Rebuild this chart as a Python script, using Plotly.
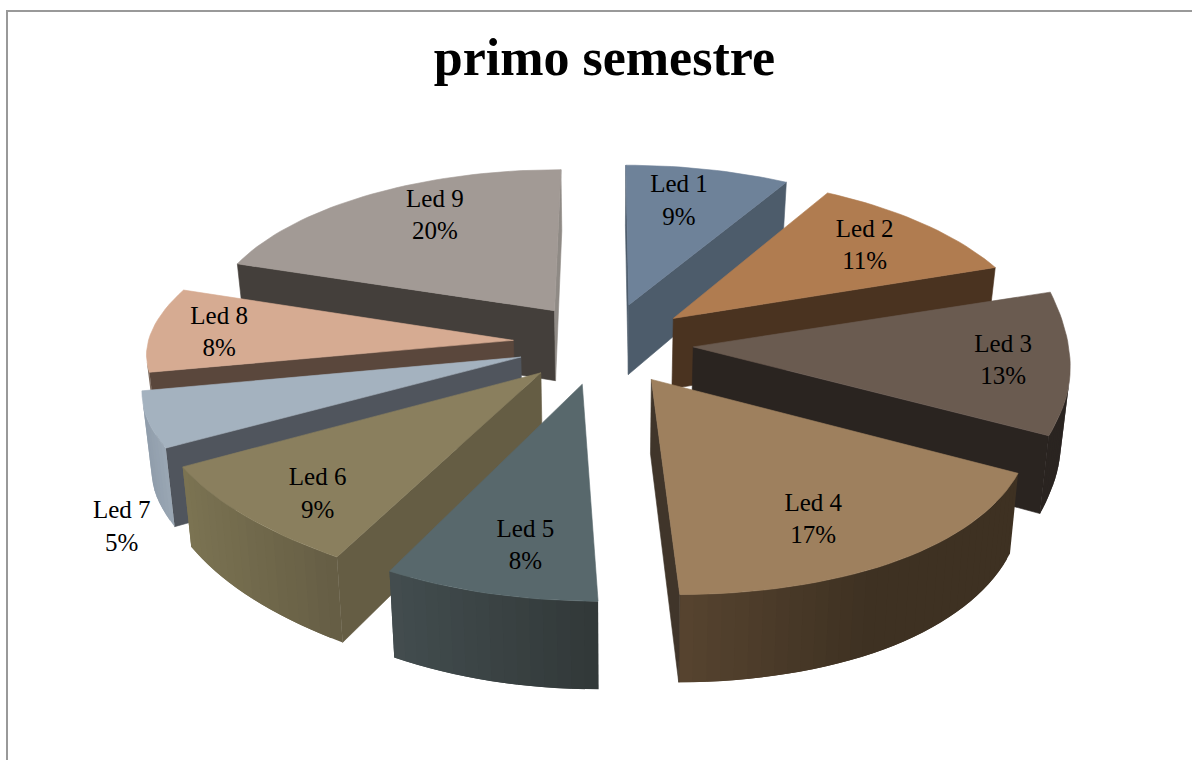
import math
import plotly.graph_objects as go

labels = ["Led 1", "Led 2", "Led 3", "Led 4", "Led 5", "Led 6", "Led 7", "Led 8", "Led 9"]
values = [9, 11, 13, 17, 8, 9, 5, 8, 20]

top_colors = ["#6e8299", "#b07c50", "#6a5b50", "#9e805e", "#58686c", "#8a7f5e", "#a4b2bf", "#d6ab92", "#a29a95"]
start_face = ["#4d5c6b", "#4a3320", "#2a2420", "#40352a", "#414b4d", "#655d44", "#50555d", "#5a473c", "#443f3b"]
end_face = ["#4d5c6b", "#4a3320", "#2a2420", "#40352a", "#414b4d", "#655d44", "#50555d", "#5a473c", "#8f8a85"]
wall_left = ["#4d5c6b", "#4a3320", "#2a2420", "#57442f", "#434d4f", "#7b7352", "#8f9caa", "#7c6a5e", "#443f3b"]
wall_right = ["#4d5c6b", "#4a3320", "#2a2420", "#3e3122", "#313838", "#655d44", "#9aa7b4", "#7c6a5e", "#443f3b"]

# projection / layout settings
CX, CY, RX, RY, PERSP, DEPTH, SHRINK = 605, 343, 368, 171, 0.149, 72, 0.98
pull = [0.24, 0.24, 0.24, 0.24, 0.24, 0.24, 0.24, 0.25, 0.24]
start_adj = [0, -2, 0, 0, 0, 0, 0, 0, 0]
end_adj = [-2, -1, 0, 0, -0.5, 0, 0, 0, 0]
start_bulge = [0, 0, 0.08, -0.008, 0, 0.01, 0, -0.025, -0.02]
end_trim = [0, 0, 0.005, 0, 0, -0.005, 0, 0, 0]
gradient_speed = [1, 1, 1, 1.8, 1, 1, 1, 1, 1]
label_frac = [0.80, 0.72, 0.78, 0.60, 0.62, 0.62, 1.16, 0.80, 0.72]
label_dx = [-19, 3, 19, 24, -1, -46, 37, -4, 16]
label_dy = [8, -4, 2, 39, 41, 38, 98, 2, -7]
label_font = 25


def proj(u, v, z=0):
    w = 1 + PERSP * v
    px = CX + RX * u / w
    py = CY - RY * v / w + z * DEPTH / w
    if z:
        px = CX + (px - CX) * SHRINK
    if v < -0.4:
        px += 20 * min(1.0, ((-v - 0.4) / 0.7)) ** 1.2
    return px, py


def area(a, b, c, d):
    pts = [a, b, c, d]
    return sum(pts[i][0] * pts[(i + 1) % 4][1] - pts[(i + 1) % 4][0] * pts[i][1] for i in range(4)) / 2


def lerp(c1, c2, t):
    a = [int(c1[i:i + 2], 16) for i in (1, 3, 5)]
    b = [int(c2[i:i + 2], 16) for i in (1, 3, 5)]
    return "rgb(%d,%d,%d)" % tuple(round(x + (y - x) * t) for x, y in zip(a, b))


def poly(pts, color, lw=0.6):
    return go.Scatter(x=[p[0] for p in pts] + [pts[0][0]], y=[p[1] for p in pts] + [pts[0][1]],
                      mode="lines", fill="toself", fillcolor=color,
                      line=dict(color=color, width=lw), hoverinfo="skip", showlegend=False)


total = sum(values)
slices = []
acc = 0
for i, val in enumerate(values):
    a0 = acc / total * 2 * math.pi
    a1 = (acc + val) / total * 2 * math.pi
    acc += val
    mid = (a0 + a1) / 2
    slices.append((i, a0, a1, mid, pull[i] * math.sin(mid), pull[i] * math.cos(mid)))

fig = go.Figure()
text_x, text_y, text_s = [], [], []
for i, a0, a1, mid, ox, oy in sorted(slices, key=lambda s: -math.cos(s[3])):
    n = max(6, int(values[i] * 2))
    b0 = a0 + math.radians(start_adj[i])
    b1 = a1 + math.radians(end_adj[i])
    arc = []
    for j in range(n + 1):
        t = j / n
        ang = b0 + (b1 - b0) * t
        r = 1 + start_bulge[i] * (1 - t) ** 3 - end_trim[i] * t
        arc.append((ox + r * math.sin(ang), oy + r * math.cos(ang)))
    outline = [(ox, oy)] + arc
    m = len(outline)
    xs = [proj(*pt)[0] for pt in arc]
    faces = []
    for j in range(m):
        p, q = outline[j], outline[(j + 1) % m]
        a, b = proj(*p), proj(*q)
        c, d = proj(*q, 1), proj(*p, 1)
        if area(a, b, c, d) >= 0:
            continue
        if j == 0:
            faces.append(poly([a, b, c, d], start_face[i]))
        elif j == m - 1:
            faces.append(poly([a, b, c, d], end_face[i]))
        else:
            xm = (a[0] + b[0]) / 2
            t = (xm - min(xs)) / max(1, max(xs) - min(xs))
            col = lerp(wall_left[i], wall_right[i], min(1, gradient_speed[i] * t))
            # each wall piece overlaps the next one, so no seam shows between them
            k = min(j + 2, m - 1)
            q2 = outline[k]
            faces.append(poly([a, proj(*q2), proj(*q2, 1), d], col, lw=0))
    fig.add_traces(faces)
    fig.add_trace(poly([proj(*p) for p in outline], top_colors[i]))
    lx, ly = proj(ox + label_frac[i] * math.sin(mid), oy + label_frac[i] * math.cos(mid))
    text_x.append(lx + label_dx[i])
    text_y.append(ly + label_dy[i])
    text_s.append(f"{labels[i]}<br>{values[i]}%")

fig.add_trace(go.Scatter(x=text_x, y=text_y, text=text_s, mode="text", textposition="middle center",
                         textfont=dict(family="Liberation Serif", size=label_font, color="#000000"),
                         hoverinfo="skip", showlegend=False))

fig.update_layout(
    width=1192, height=760, margin=dict(l=0, r=0, t=0, b=0),
    paper_bgcolor="white", plot_bgcolor="white",
    title=dict(text="<b>primo semestre</b>", x=0.507, xanchor="center", y=0.925, yanchor="middle",
               font=dict(family="Liberation Serif", size=52, color="#000000")),
    xaxis=dict(range=[0, 1192], visible=False, fixedrange=True),
    yaxis=dict(range=[760, 0], visible=False, fixedrange=True),
    shapes=[dict(type="rect", xref="x", yref="y", x0=7, y0=11, x1=1400, y1=1000,
                 line=dict(color="#999999", width=2), layer="below")],
)
fig.write_html("out.html", config={"displayModeBar": False},
               post_script="document.body.style.margin='0';")
